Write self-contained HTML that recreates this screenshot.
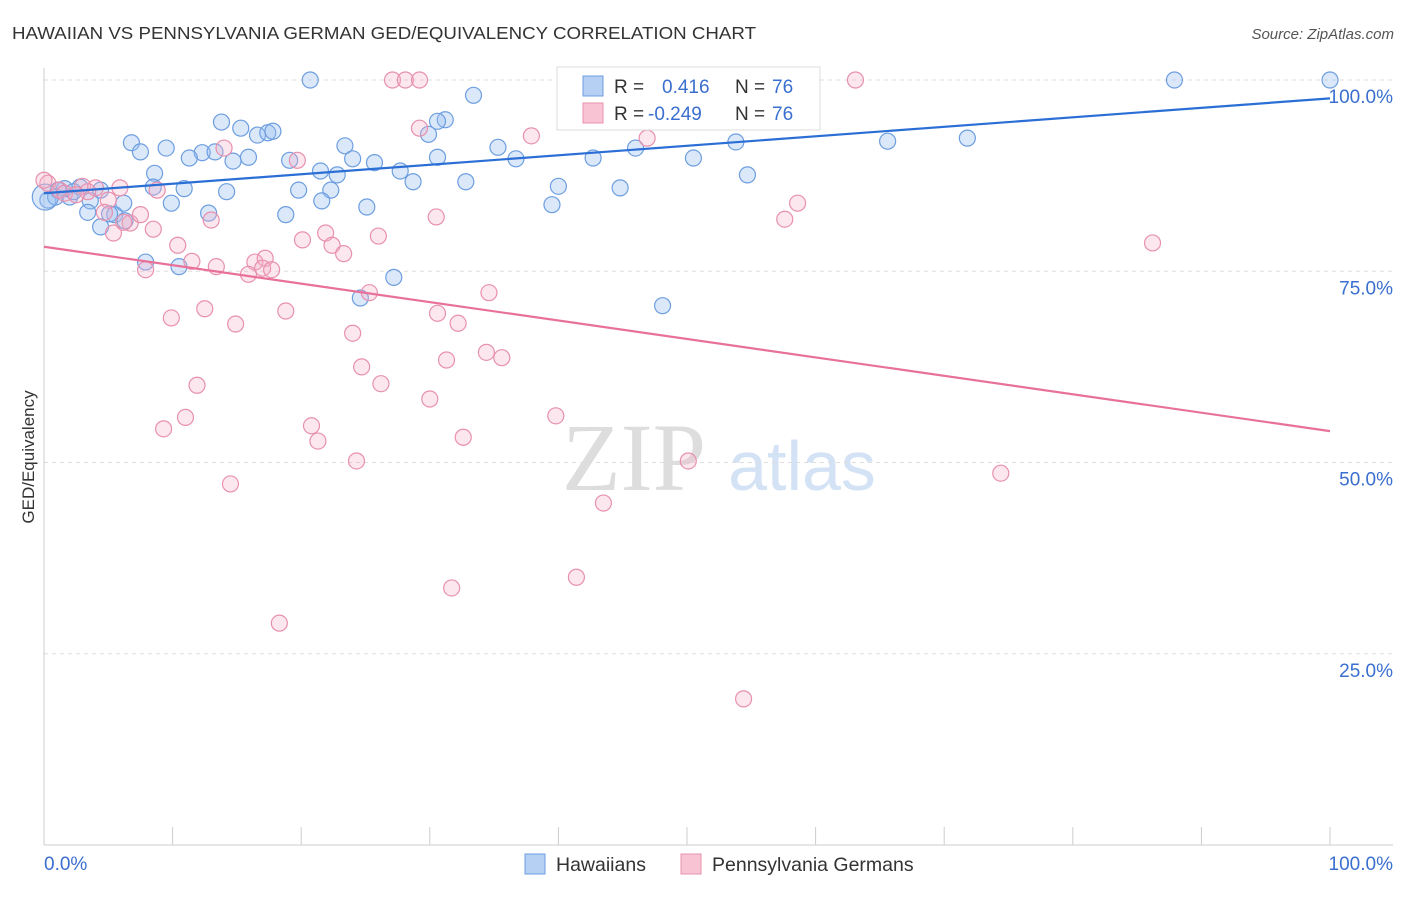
<!DOCTYPE html>
<html><head><meta charset="utf-8">
<style>
body{margin:0;background:#fff;font-family:"Liberation Sans",sans-serif;}
svg text{font-family:"Liberation Sans",sans-serif;}
</style></head>
<body>
<svg id="chart" width="1406" height="892" xmlns="http://www.w3.org/2000/svg">
<text x="12" y="39" font-size="17.5" fill="#333" textLength="744" lengthAdjust="spacingAndGlyphs">HAWAIIAN VS PENNSYLVANIA GERMAN GED/EQUIVALENCY CORRELATION CHART</text>
<text x="1394" y="39" font-size="15" fill="#555" text-anchor="end" font-style="italic">Source: ZipAtlas.com</text>
<text transform="translate(34,457) rotate(-90)" font-size="17" fill="#333" text-anchor="middle">GED/Equivalency</text>
<g>
<text x="634" y="490" font-size="96" fill="#ddd" font-family="Liberation Serif" text-anchor="middle" style="font-family:'Liberation Serif',serif">ZIP</text>
<text x="802" y="490" font-size="70" fill="#d3e2f5" text-anchor="middle">atlas</text>
</g>
<g id="grid"></g>
<g id="axes"></g>
<g id="pts"></g>
<g id="trends"></g>
<g>
<rect x="557" y="67" width="263" height="63" fill="#fff" stroke="#ddd"/>
<rect x="583" y="76" width="20" height="20" fill="#b5d0f3" stroke="#6d9ee0"/>
<rect x="583" y="103" width="20" height="20" fill="#f8c4d4" stroke="#e890ae"/>
<text x="614" y="93" font-size="19" fill="#333">R = </text>
<text x="662" y="93" font-size="19" fill="#3a6fd0">0.416</text>
<text x="735" y="93" font-size="19" fill="#333">N = </text>
<text x="772" y="93" font-size="19" fill="#3a6fd0">76</text>
<text x="614" y="120" font-size="19" fill="#333">R = </text>
<text x="648" y="120" font-size="19" fill="#3a6fd0">-0.249</text>
<text x="735" y="120" font-size="19" fill="#333">N = </text>
<text x="772" y="120" font-size="19" fill="#3a6fd0">76</text>
</g>
<g>
<rect x="525" y="854" width="20" height="20" fill="#b5d0f3" stroke="#6d9ee0"/>
<text x="556" y="871" font-size="19.5" fill="#333">Hawaiians</text>
<rect x="681" y="854" width="20" height="20" fill="#f8c4d4" stroke="#e890ae"/>
<text x="712" y="871" font-size="19.5" fill="#333">Pennsylvania Germans</text>
</g>
</svg>
<script>
const blueX=[20.7,87.9,100,33.4,13.8,31.2,30.6,15.3,16.6,17.4,17.8,6.8,7.5,9.5,12.3,11.3,13.3,14.7,15.9,23.4,19.1,24.0,25.7,29.9,30.6,35.3,36.7,42.7,46.0,50.5,53.8,65.6,71.8,8.6,21.5,22.8,27.7,28.7,32.8,40.0,44.8,54.7,8.5,10.9,14.2,19.8,22.3,0.3,0.9,2.0,2.8,1.6,3.6,3.4,4.4,5.5,6.2,6.3,9.9,12.8,18.8,21.6,25.1,39.5,7.9,10.5,24.6,27.2,48.1,44.2,49.5,1.1,4.4,5.1,2.3,0.1];
const blueY=[100,100,100,98.0,94.5,94.8,94.6,93.7,92.8,93.1,93.3,91.8,90.6,91.1,90.5,89.8,90.6,89.4,89.9,91.4,89.5,89.7,89.2,92.9,89.9,91.2,89.7,89.8,91.1,89.8,91.9,92.0,92.4,87.8,88.1,87.6,88.1,86.7,86.7,86.1,85.9,87.6,86.0,85.8,85.4,85.6,85.6,84.3,84.7,84.7,86.0,85.8,84.2,82.7,80.8,82.4,83.9,81.6,83.9,82.6,82.4,84.2,83.4,83.7,76.2,75.6,71.5,74.2,70.5,97.1,95.0,85.6,85.6,82.5,85.4,84.7];
const pinkX=[27.1,28.1,29.2,63.1,29.2,37.9,46.9,14.0,19.7,0.3,1.2,3.0,4.0,5.9,8.8,1.6,5.0,4.7,6.7,7.5,5.4,6.2,8.5,13.0,30.5,21.9,58.6,57.6,20.1,22.4,23.3,26.0,10.4,11.5,13.4,16.4,17.2,17.0,17.7,15.9,7.9,86.2,25.3,34.6,30.6,32.2,12.5,18.8,14.9,9.9,24.0,34.4,35.6,31.3,24.7,26.2,11.9,30.0,39.8,11.0,9.3,20.8,21.3,32.6,24.3,50.1,74.4,14.5,43.5,41.4,31.7,18.3,54.4,0.0,3.4,2.5];
const pinkY=[100,100,100,100,93.7,92.7,92.4,91.1,89.5,86.5,85.6,86.1,85.9,85.9,85.6,85.2,84.3,82.7,81.3,82.4,80.0,81.4,80.5,81.7,82.1,80.0,83.9,81.8,79.1,78.4,77.3,79.6,78.4,76.3,75.6,76.2,76.7,75.4,75.2,74.6,75.2,78.7,72.2,72.2,69.5,68.2,70.1,69.8,68.1,68.9,66.9,64.4,63.7,63.4,62.5,60.3,60.1,58.3,56.1,55.9,54.4,54.8,52.8,53.3,50.2,50.2,48.6,47.2,44.7,35.0,33.6,29.0,19.1,86.9,85.4,85.0];
const blueTrend=[85.2,97.6];
const pinkTrend=[78.2,54.1];
const yTicks=[100,75,50,25];
const yTickLabels=["100.0%","75.0%","50.0%","25.0%"];
const xTicks=[0,10,20,30,40,50,60,70,80,90,100];

const NS="http://www.w3.org/2000/svg";
const X=v=>44+v*12.86, Y=v=>845-v*7.65;
function mk(tag,attrs,parent,text){const e=document.createElementNS(NS,tag);for(const k in attrs)e.setAttribute(k,attrs[k]);if(text!==undefined)e.textContent=text;document.getElementById(parent).appendChild(e);return e;}
yTicks.forEach((t,i)=>{
 const g=mk('line',{x1:44,x2:1393,y1:Y(t),y2:Y(t),stroke:'#ddd','stroke-dasharray':'4,4'},'grid');
 
 
 const l=mk('text',{x:1393,y:Y(t)+23,'font-size':19,fill:'#3a6fd0','text-anchor':'end'},'axes',yTickLabels[i]);
 
 
});
const ax=mk('line',{x1:44,x2:44,y1:68,y2:845,stroke:'#ccc'},'axes');


const bx=mk('line',{x1:44,x2:1393,y1:845,y2:845,stroke:'#ccc'},'axes');


xTicks.forEach(t=>{
 const tk=mk('line',{x1:X(t),x2:X(t),y1:827,y2:845,stroke:'#ccc'},'axes');
 
 
});
const x0=mk('text',{x:44,y:870,'font-size':19,fill:'#3a6fd0'},'axes','0.0%');


const x1=mk('text',{x:1393,y:870,'font-size':19,fill:'#3a6fd0','text-anchor':'end'},'axes','100.0%');


blueX.forEach((v,i)=>{
 const c=mk('circle',{cx:X(v),cy:Y(blueY[i]),r:i===blueX.length-1?13:8,fill:'rgba(150,190,240,0.35)',stroke:'#6d9ee0','stroke-width':1.2},'pts');
 
 
});
pinkX.forEach((v,i)=>{
 const c=mk('circle',{cx:X(v),cy:Y(pinkY[i]),r:8,fill:'rgba(245,175,200,0.3)',stroke:'#e890ae','stroke-width':1.2},'pts');
 
 
});
const tb=mk('line',{x1:X(0),y1:Y(blueTrend[0]),x2:X(100),y2:Y(blueTrend[1]),stroke:'#2b6fd6','stroke-width':2.2},'trends');


const tp=mk('line',{x1:X(0),y1:Y(pinkTrend[0]),x2:X(100),y2:Y(pinkTrend[1]),stroke:'#e8719a','stroke-width':2.2},'trends');


</script>
</body></html>
